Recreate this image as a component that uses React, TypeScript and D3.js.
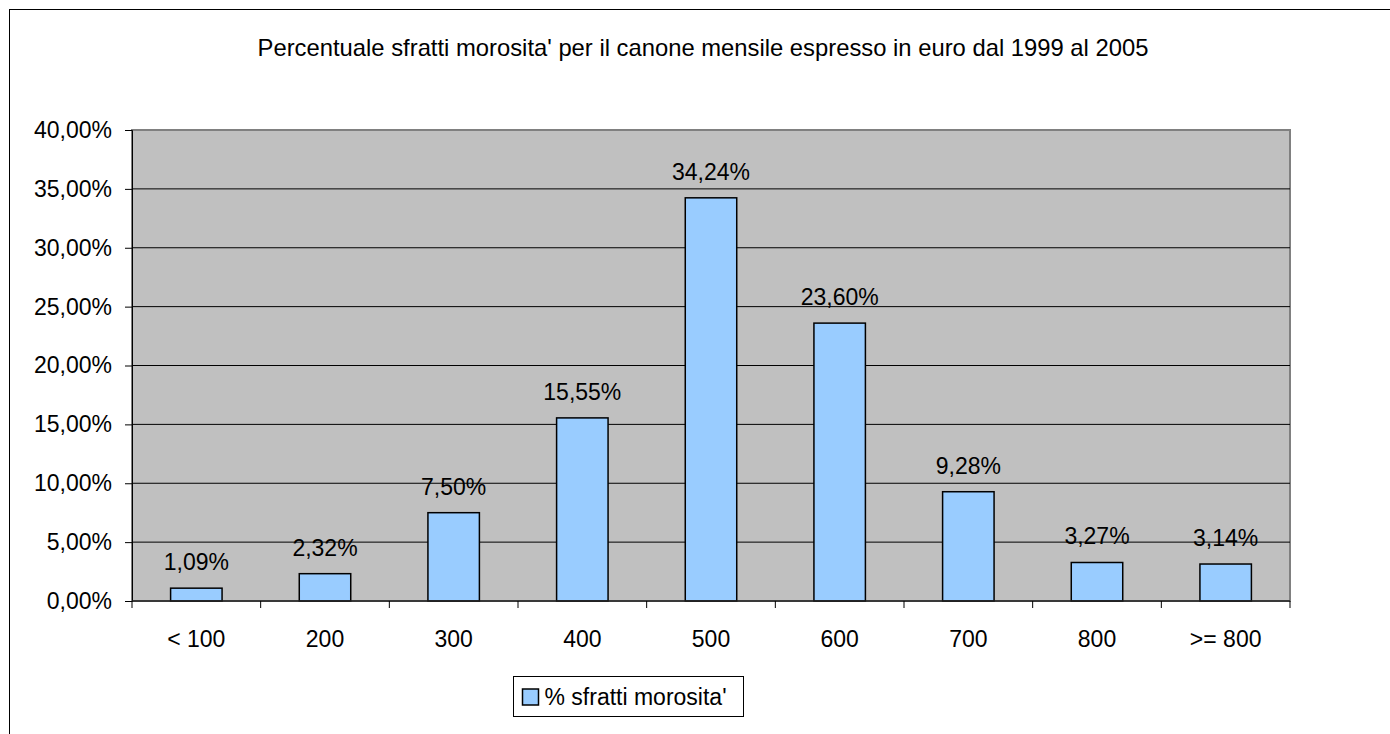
import React, { useEffect, useRef } from 'react';
import * as d3 from 'd3';

const categories = ['< 100', '200', '300', '400', '500', '600', '700', '800', '>= 800'];
const values = [1.09, 2.32, 7.5, 15.55, 34.24, 23.6, 9.28, 3.27, 3.14];
const yTicks = [0, 5, 10, 15, 20, 25, 30, 35, 40];
const seriesName = "% sfratti morosita'";
const title = "Percentuale sfratti morosita' per il canone mensile espresso in euro dal 1999 al 2005";

const W = 1390;
const H = 734;
const FONT = "'Liberation Sans', Arial, sans-serif";
const FS = 23;

const fmt = (v: number) => v.toFixed(2).replace('.', ',') + '%';

const App: React.FC = () => {
  const svgRef = useRef<SVGSVGElement>(null);

  useEffect(() => {
    if (!svgRef.current) return;
    const svg = d3.select(svgRef.current);
    svg.selectAll('*').remove();

    const left = 132, right = 1290, top = 130, bottom = 601;

    const x = d3.scaleBand().domain(categories).range([left, right]).paddingInner(0.6).paddingOuter(0.3);
    const xBand = d3.scaleBand().domain(categories).range([left, right]);
    const y = d3.scaleLinear().domain([0, 40]).range([bottom, top]);

    // outer frame (runs off the page on the right and bottom)
    svg.append('rect')
      .attr('x', 9.5).attr('y', 9.5)
      .attr('width', W + 20).attr('height', H + 20)
      .attr('fill', '#fff').attr('stroke', '#000').attr('stroke-width', 1);

    svg.append('text')
      .attr('x', 703).attr('y', 56)
      .attr('text-anchor', 'middle')
      .attr('font-family', FONT).attr('font-size', 23.8)
      .attr('fill', '#000')
      .text(title);

    // plot area
    svg.append('rect')
      .attr('x', left).attr('y', top)
      .attr('width', right - left).attr('height', bottom - top)
      .attr('fill', '#c0c0c0')
      .attr('stroke', '#808080').attr('stroke-width', 2);

    // grid lines
    svg.append('g')
      .selectAll('line')
      .data(yTicks.slice(1, -1))
      .join('line')
      .attr('x1', left).attr('x2', right)
      .attr('y1', d => y(d)).attr('y2', d => y(d))
      .attr('stroke', '#000').attr('stroke-width', 1);

    // y axis
    const yAxis = svg.append('g')
      .attr('transform', `translate(${left},0)`)
      .call(d3.axisLeft(y).tickValues(yTicks).tickSize(7).tickPadding(13).tickFormat(d => fmt(+d)));
    yAxis.select('.domain').attr('stroke', '#000').attr('stroke-width', 1);
    yAxis.selectAll('.tick line').attr('stroke', '#000');
    yAxis.selectAll('text')
      .attr('font-family', FONT).attr('font-size', FS).attr('fill', '#000');

    // bars
    svg.append('g')
      .selectAll('rect')
      .data(values)
      .join('rect')
      .attr('x', (d, i) => x(categories[i])!)
      .attr('y', d => y(d))
      .attr('width', x.bandwidth())
      .attr('height', d => bottom - y(d))
      .attr('fill', '#99ccff')
      .attr('stroke', '#000').attr('stroke-width', 1.5);

    // x axis
    svg.append('line')
      .attr('x1', left).attr('x2', right)
      .attr('y1', bottom).attr('y2', bottom)
      .attr('stroke', '#222').attr('stroke-width', 1.5);
    const bounds = categories.map(c => xBand(c)!).concat([right]);
    svg.append('g')
      .selectAll('line')
      .data(bounds)
      .join('line')
      .attr('x1', d => d).attr('x2', d => d)
      .attr('y1', bottom).attr('y2', bottom + 7)
      .attr('stroke', '#000');
    svg.append('g')
      .selectAll('text')
      .data(categories)
      .join('text')
      .attr('x', d => xBand(d)! + xBand.bandwidth() / 2)
      .attr('y', 647)
      .attr('text-anchor', 'middle')
      .attr('font-family', FONT).attr('font-size', FS).attr('fill', '#000')
      .text(d => d);

    // value labels
    svg.append('g')
      .selectAll('text')
      .data(values)
      .join('text')
      .attr('x', (d, i) => xBand(categories[i])! + xBand.bandwidth() / 2)
      .attr('y', d => y(d) - 18)
      .attr('text-anchor', 'middle')
      .attr('font-family', FONT).attr('font-size', FS).attr('fill', '#000')
      .text(d => fmt(d));

    // legend
    const lg = svg.append('g').attr('transform', 'translate(513.5,676.5)');
    lg.append('rect').attr('width', 230).attr('height', 40)
      .attr('fill', '#fff').attr('stroke', '#000').attr('stroke-width', 1);
    lg.append('rect').attr('x', 9).attr('y', 12.5).attr('width', 16).attr('height', 16)
      .attr('fill', '#99ccff').attr('stroke', '#000').attr('stroke-width', 1.5);
    lg.append('text').attr('x', 31).attr('y', 28.5)
      .attr('font-family', FONT).attr('font-size', FS).attr('fill', '#000')
      .text(seriesName);
  }, []);

  return (
    <svg
      ref={svgRef}
      width={W}
      height={H}
      style={{ position: 'absolute', left: 0, top: 0, background: '#fff' }}
    />
  );
};

export default App;
